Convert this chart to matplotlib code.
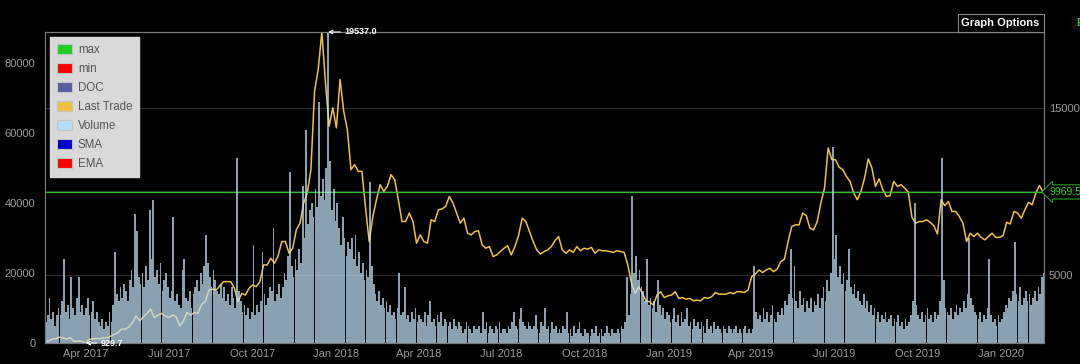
#!/usr/bin/env python

import numpy as np
import pandas as pd
import matplotlib

matplotlib.use("Agg")
import matplotlib.pyplot as plt
import matplotlib.dates as mdates
import matplotlib.transforms as mtransforms
from matplotlib.patches import Patch
from matplotlib.ticker import MultipleLocator, FixedLocator

plt.rcParams["font.family"] = ["Liberation Sans", "DejaVu Sans"]

START = "2017-02-15"

# last trade, one reading every 4 days
price = [
    1010, 1050, 1170, 1190, 1280, 1230, 1180, 1250, 1030, 1040,
    1045, 929.7, 1130, 1180, 1200, 1180, 1240, 1250, 1330, 1450,
    1540, 1750, 1770, 1880, 2150, 2550, 2250, 2500, 2700, 2950,
    2450, 2600, 2700, 2550, 2450, 2600, 2500, 1950, 2250, 2750,
    2600, 2750, 2700, 3250, 3400, 4100, 4150, 4100, 4350, 4600,
    4600, 4600, 4200, 3400, 3900, 3800, 4200, 4400, 4300, 4600,
    5600, 5600, 6000, 5700, 6150, 7000, 7000, 6300, 6600, 7700,
    8100, 9300, 9900, 11300, 16000, 17300, 19537.0, 16500, 13900, 15000,
    13800, 16700, 14800, 13700, 11300, 11600, 11200, 11200, 9000, 7000,
    8500, 9500, 10400, 10000, 10300, 11000, 10700, 9500, 8200, 8200,
    8700, 8200, 6900, 7400, 7000, 6900, 8300, 8200, 8900, 8950,
    9100, 9700, 9300, 8700, 8100, 8400, 7500, 7400, 7600, 7650,
    6800, 6600, 6700, 6100, 6200, 6400, 6600, 6750, 6200, 6700,
    7350, 8400, 8200, 7600, 7000, 6500, 6250, 6400, 6500, 6700,
    7050, 7300, 6500, 6300, 6500, 6350, 6700, 6450, 6600, 6550,
    6650, 6300, 6500, 6450, 6450, 6400, 6350, 6450, 6400, 6350,
    5600, 4500, 3900, 4300, 3900, 3450, 3400, 3200, 3800, 4000,
    3650, 3750, 3800, 4000, 3600, 3650, 3550, 3600, 3450, 3500,
    3450, 3650, 3600, 3700, 3950, 3850, 3850, 3850, 3950, 3880,
    4000, 4000, 3950, 4100, 4900, 5050, 5300, 5150, 5300, 5400,
    5200, 5350, 5800, 5950, 7000, 7900, 8000, 8000, 8700, 8550,
    7800, 7700, 8200, 9300, 10200, 12600, 11900, 11900, 11450, 11300,
    10900, 10600, 9900, 9500, 10000, 10800, 11950, 11400, 10300, 10750,
    10100, 9700, 9750, 10600, 10300, 10400, 10200, 9950, 8450, 8100,
    8200, 8200, 8300, 8150, 7950, 7450, 9500, 9150, 9400, 8800,
    8800, 8500, 8100, 7000, 7500, 7300, 7500, 7250, 7100, 7300,
    7500, 7250, 7250, 7350, 8150, 8050, 8800, 8700, 8400, 8900,
    9350, 9200, 9900, 10350, 9969.5,
]

# traded volume in thousands, 2-day buckets
volume_k = [
    6, 8, 13, 7, 9, 5, 8,
    10, 8, 12, 24, 9, 11, 7, 19, 10, 8, 13, 19, 9, 11, 8,
    10, 13, 8, 9, 12, 7, 9, 6, 5, 7, 4, 6, 5, 9, 6,
    11, 26, 14, 12, 16, 13, 17, 15, 12, 18, 21, 16, 37, 32, 19, 17,
    20, 16, 22, 18, 38, 24, 41, 19, 21, 17, 23, 15, 18, 20, 16,
    13, 15, 36, 12, 14, 11, 10, 21, 24, 13, 12, 15, 10, 14, 16,
    18, 15, 20, 17, 22, 31, 23, 19, 16, 21, 18, 15, 14, 17, 13, 16,
    12, 14, 11, 16, 13, 10, 53, 15, 12, 9, 11, 8, 10, 7, 9,
    28, 8, 11, 9, 12, 26, 14, 11, 13, 16, 15, 33, 12, 14, 17, 13,
    16, 20, 18, 25, 49, 22, 19, 24, 21, 27, 23, 45, 30, 61, 34,
    38, 40, 36, 44, 39, 69, 42, 47, 41, 50, 89, 52, 38, 44, 35, 40,
    33, 28, 36, 30, 25, 29, 27, 30, 24, 31, 22, 26, 20, 23, 18, 21,
    19, 46, 22, 17, 14, 12, 15, 11, 13, 10, 12, 9, 11, 8,
    9, 7, 10, 20, 8, 9, 16, 7, 8, 6, 9, 7, 10, 6, 8,
    7, 6, 9, 5, 8, 12, 6, 7, 5, 8, 6, 9, 5, 7, 6,
    5, 6, 4, 7, 5, 4, 6, 5, 3, 4, 6, 5, 4, 3, 5, 4,
    4, 5, 3, 9, 4, 6, 3, 5, 4, 3, 5, 4, 6, 3, 4,
    4, 3, 5, 4, 6, 9, 5, 4, 7, 10, 6, 5, 4, 6, 5,
    4, 5, 8, 4, 3, 6, 5, 10, 4, 5, 3, 6, 4, 5, 3, 4,
    3, 5, 4, 9, 3, 4, 2, 5, 3, 4, 6, 3, 2, 4, 3,
    3, 2, 4, 3, 5, 2, 3, 4, 2, 3, 5, 3, 2, 4, 3,
    3, 4, 3, 5, 4, 6, 19, 8, 14, 42, 20, 25, 18, 21, 16,
    15, 12, 24, 11, 13, 10, 12, 9, 18, 11, 8, 10, 7, 9, 8, 6,
    7, 10, 6, 8, 5, 9, 6, 7, 10, 5, 6, 4, 7, 5, 6,
    4, 6, 5, 3, 7, 4, 5, 3, 6, 4, 5, 4, 3, 5,
    4, 3, 5, 4, 3, 4, 5, 3, 4, 3, 4, 5, 3, 4, 3, 4,
    22, 9, 7, 8, 6, 10, 7, 9, 6, 8, 11, 7, 6, 9, 8,
    10, 8, 12, 11, 14, 27, 13, 22, 12, 10, 15, 11, 13, 9, 12,
    10, 13, 9, 12, 11, 14, 10, 13, 16, 12, 18, 15, 20, 56, 24,
    31, 19, 22, 17, 20, 15, 18, 27, 16, 14, 17, 13, 15, 12, 11, 14,
    10, 12, 9, 11, 8, 10, 7, 9, 6, 8, 7, 9, 6, 7, 8,
    5, 7, 6, 8, 5, 6, 4, 7, 5, 6, 8, 12, 40, 11, 8,
    7, 9, 6, 8, 10, 7, 8, 6, 9, 7, 8, 12, 53, 18, 10, 9,
    8, 10, 7, 9, 11, 8, 10, 9, 12, 10, 14, 30, 13, 11, 9,
    8, 7, 9, 6, 8, 7, 10, 24, 8, 6, 7, 5, 8, 6, 7,
    9, 11, 10, 13, 12, 15, 29, 14, 12, 16, 11, 13, 15, 12, 14, 11,
    13, 15, 12, 16, 14, 19, 20,
]

legend_labels = ["max", "min", "DOC", "Last Trade", "Volume", "SMA", "EMA"]
legend_colors = ["#22cc22", "#ff0000", "#5b5b9e", "#f0c040",
                 "#b3dcf5", "#0000cc", "#ff0000"]

price = np.array(price)
volume = np.array(volume_k) * 1000
price_dates = pd.date_range(START, periods=len(price), freq="4D")
vol_dates = pd.date_range(START, periods=len(volume), freq="2D")

fig = plt.figure(figsize=(10.8, 3.64), dpi=100, facecolor="black")
ax = fig.add_axes([45 / 1080, 21 / 364, 999 / 1080, 311 / 364])
ax2 = ax.twinx()
# price axis sits underneath so the translucent volume bars tint the line
ax.set_zorder(2)
ax2.set_zorder(1)
ax.patch.set_visible(False)
ax2.set_facecolor("black")

# volume
ax.bar(vol_dates, volume, width=1.9, align="edge", color="#c0e0f8",
       alpha=0.72, linewidth=0)
ax.set_ylim(0, volume.max())
ax.yaxis.set_major_locator(MultipleLocator(20000))

# last trade
ax2.plot(price_dates, price, color="#f0c040", lw=1.1)
ax2.axhline(price[-1], color="#2fbf2f", lw=0.9)
ax2.set_ylim(price.min(), price.max())
ax2.yaxis.set_major_locator(FixedLocator([5000, 10000, 15000]))
ax2.grid(True, color="#2a2a2a", lw=0.8)

ax.set_xlim(vol_dates[0], vol_dates[-1] + pd.Timedelta(days=1))
ax.xaxis.set_major_locator(mdates.MonthLocator(bymonth=[1, 4, 7, 10]))
ax.xaxis.set_major_formatter(mdates.DateFormatter("%b %Y"))

for a in (ax, ax2):
    for s in a.spines.values():
        s.set_color("#7a7a7a")
        s.set_linewidth(0.8)
    a.tick_params(length=0, labelcolor="#9a9a9a", labelsize=8)
ax.tick_params(axis="y", pad=7)
ax.tick_params(axis="x", pad=4)
ax2.tick_params(axis="y", pad=3.5)

# max / min markers
price_tr = ax2.transData
imax = int(np.argmax(price))
imin = int(np.argmin(price))
ax.annotate(f"{price[imax]:.1f}",
            xy=(mdates.date2num(price_dates[imax]), price[imax]),
            xycoords=price_tr, xytext=(16.5, 0), textcoords="offset points",
            ha="left", va="center", color="white", fontsize=6.5,
            fontweight="bold", annotation_clip=False,
            arrowprops=dict(arrowstyle="->", color="white", lw=0.8,
                            shrinkA=1, shrinkB=4.5))
ax.annotate(f"{price[imin]:.1f}",
            xy=(mdates.date2num(price_dates[imin]), price[imin]),
            xycoords=price_tr, xytext=(11.5, 0), textcoords="offset points",
            ha="left", va="center", color="white", fontsize=6.5,
            fontweight="bold", annotation_clip=False,
            arrowprops=dict(arrowstyle="->", color="white", lw=0.8,
                            shrinkA=1, shrinkB=0.5))

# current value tag on the right edge
edge = mtransforms.blended_transform_factory(ax.transAxes, price_tr)
ax.annotate(f"{price[-1]}", xy=(1.0, price[-1]), xycoords=edge,
            xytext=(4, 0), textcoords="offset points", ha="left",
            va="center", color="#33cc33", fontsize=7.5, annotation_clip=False,
            bbox=dict(boxstyle="larrow,pad=0.2", fc="black", ec="#2a9a2a",
                      lw=0.8))

# legend
handles = [Patch(facecolor=c, edgecolor="#c4c4c4", linewidth=0.8)
           for c in legend_colors]
leg = ax.legend(handles, legend_labels, loc="upper left", fontsize=8.3,
                frameon=True, fancybox=False, framealpha=1,
                facecolor="#d9d9d9", edgecolor="#d9d9d9", labelcolor="#555555",
                handlelength=1.3, handleheight=0.95, handletextpad=0.55,
                labelspacing=0.62, borderpad=0.55, borderaxespad=0.45)

ax.annotate("Graph Options", xy=(1.0, 1.0), xycoords="axes fraction",
            xytext=(-3, 3), textcoords="offset points", ha="right",
            va="bottom", color="white", fontsize=8, fontweight="bold",
            annotation_clip=False,
            bbox=dict(boxstyle="square,pad=0.35", fc="black", ec="#888888",
                      lw=0.8))
fig.text(1076 / 1080, 1 - 23 / 364, "E", color="#22cc22", fontsize=8,
         fontweight="bold", va="center", ha="left")

fig.savefig("out.png", dpi=100, facecolor="black")
